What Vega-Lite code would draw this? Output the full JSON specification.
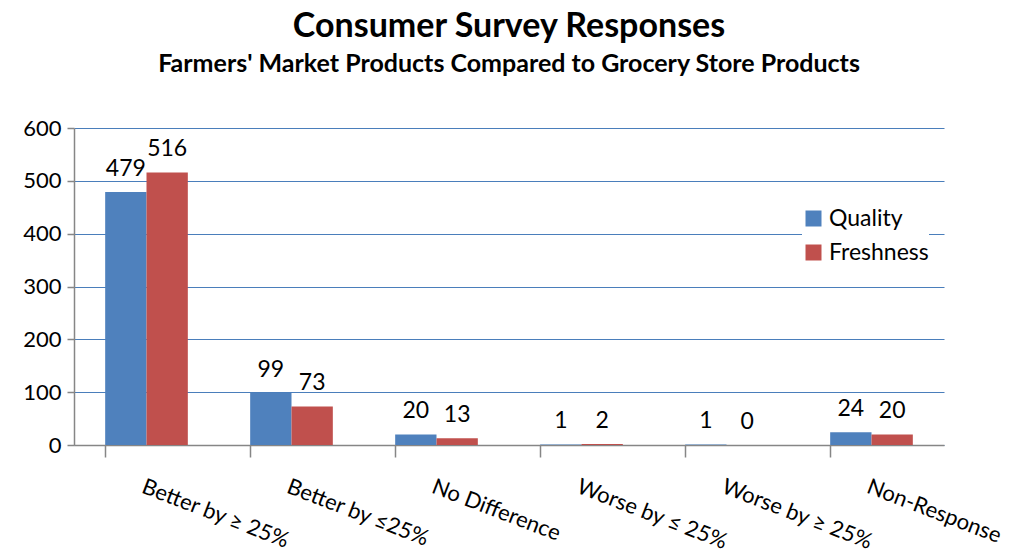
{
  "$schema": "https://vega.github.io/schema/vega-lite/v6.json",
  "width": 870,
  "height": 317,
  "padding": {"left": 22, "top": 10, "right": 80, "bottom": 2},
  "background": "white",
  "title": {
    "text": "Consumer Survey Responses",
    "subtitle": "Farmers' Market Products Compared to Grocery Store Products",
    "font": "Lato",
    "fontSize": 34,
    "fontWeight": "bold",
    "subtitleFont": "Lato",
    "subtitleFontSize": 25,
    "subtitleFontWeight": "bold",
    "subtitleColor": "black",
    "subtitlePadding": 8,
    "anchor": "middle",
    "offset": 40
  },
  "data": {
    "values": [
      {"category": "Better by ≥ 25%", "series": "Quality", "value": 479},
      {"category": "Better by ≥ 25%", "series": "Freshness", "value": 516},
      {"category": "Better by ≤25%", "series": "Quality", "value": 99},
      {"category": "Better by ≤25%", "series": "Freshness", "value": 73},
      {"category": "No Difference", "series": "Quality", "value": 20},
      {"category": "No Difference", "series": "Freshness", "value": 13},
      {"category": "Worse by ≤ 25%", "series": "Quality", "value": 1},
      {"category": "Worse by ≤ 25%", "series": "Freshness", "value": 2},
      {"category": "Worse by ≥ 25%", "series": "Quality", "value": 1},
      {"category": "Worse by ≥ 25%", "series": "Freshness", "value": 0},
      {"category": "Non-Response", "series": "Quality", "value": 24},
      {"category": "Non-Response", "series": "Freshness", "value": 20}
    ]
  },
  "encoding": {
    "x": {
      "field": "category",
      "type": "nominal",
      "sort": null,
      "title": null,
      "scale": {"paddingInner": 0.43, "paddingOuter": 0.215},
      "axis": {
        "bandPosition": 0,
        "domainColor": "#868686",
        "domainWidth": 1.5,
        "tickColor": "#868686",
        "tickWidth": 1.5,
        "tickSize": 12,
        "labelAngle": 21,
        "labelAlign": "left",
        "labelBaseline": "top",
        "labelPadding": 19,
        "labelFont": "Lato",
        "labelFontSize": 22,
        "labelColor": "black",
        "labelOverlap": false,
        "labelLimit": 400,
        "grid": false
      }
    },
    "xOffset": {"field": "series", "type": "nominal", "sort": ["Quality", "Freshness"]},
    "y": {
      "field": "value",
      "type": "quantitative",
      "title": null,
      "scale": {"domain": [0, 600]},
      "axis": {
        "values": [0, 100, 200, 300, 400, 500, 600],
        "domainColor": "#868686",
        "domainWidth": 1.5,
        "tickColor": "#868686",
        "tickWidth": 1.5,
        "tickSize": 7,
        "labelFont": "Lato",
        "labelFontSize": 22,
        "labelColor": "black",
        "labelPadding": 6,
        "gridColor": "#4a7ebb",
        "gridWidth": 1.2
      }
    }
  },
  "layer": [
    {
      "mark": {"type": "bar"},
      "encoding": {
        "color": {
          "field": "series",
          "type": "nominal",
          "sort": ["Quality", "Freshness"],
          "scale": {"domain": ["Quality", "Freshness"], "range": ["#4f81bd", "#c0504d"]},
          "legend": {
            "title": null,
            "orient": "none",
            "legendX": 728,
            "legendY": 79,
            "symbolType": "square",
            "symbolSize": 256,
            "symbolStrokeWidth": 0,
            "labelFont": "Lato",
            "labelFontSize": 23,
            "labelColor": "black",
            "rowPadding": 10,
            "fillColor": "white"
          }
        }
      }
    },
    {
      "mark": {"type": "text", "baseline": "bottom", "dy": -11, "font": "Lato", "fontSize": 23, "color": "black"},
      "encoding": {"text": {"field": "value", "type": "quantitative"}}
    }
  ],
  "config": {"view": {"stroke": null}, "axis": {"gridOpacity": 1}}
}
